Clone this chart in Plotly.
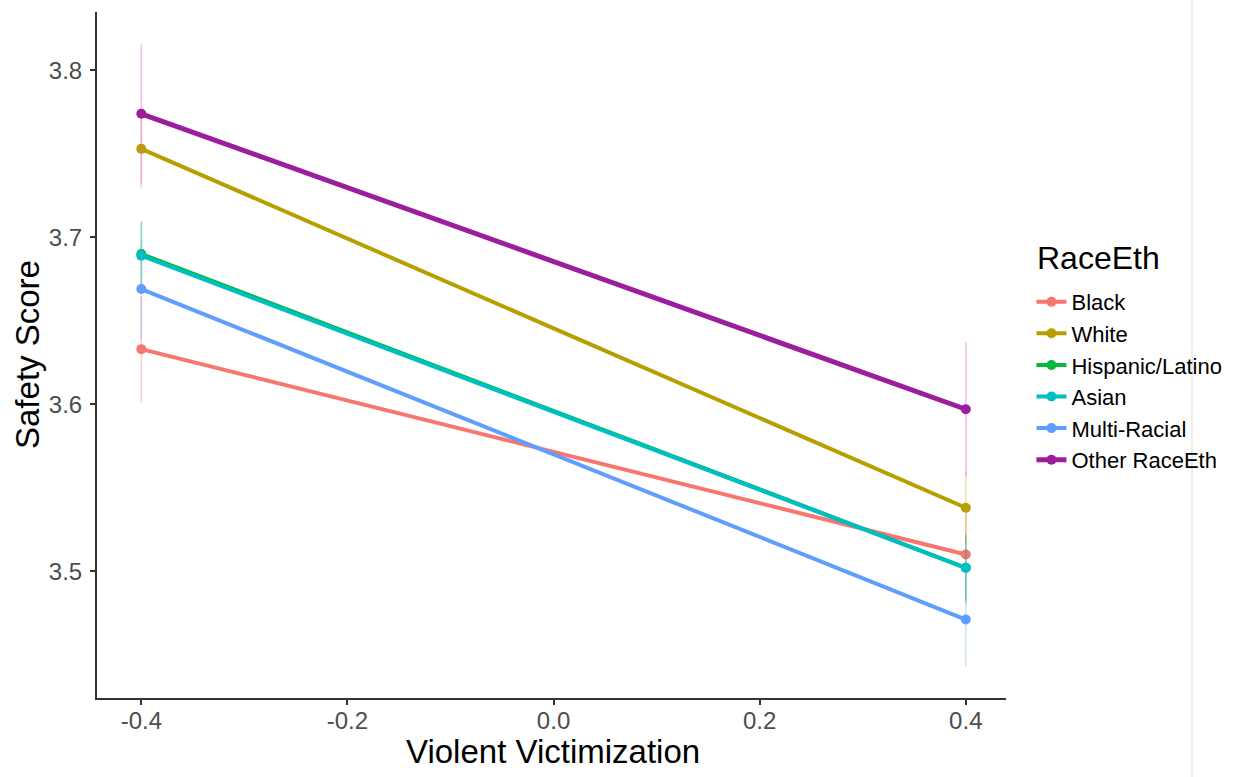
import plotly.graph_objects as go

x_vals = [-0.4, 0.4]
groups = ["Black", "White", "Hispanic/Latino", "Asian", "Multi-Racial", "Other RaceEth"]
y_black = [3.633, 3.510]
y_white = [3.753, 3.538]
y_hisp = [3.690, 3.502]
y_asian = [3.689, 3.502]
y_multi = [3.669, 3.471]
y_other = [3.774, 3.597]
err_black = [0.032, 0.030]
err_white = [0.024, 0.022]
err_hisp = [0.020, 0.020]
err_asian = [0.020, 0.020]
err_multi = [0.030, 0.028]
err_other = [0.042, 0.040]

series = [y_black, y_white, y_hisp, y_asian, y_multi, y_other]
errs = [err_black, err_white, err_hisp, err_asian, err_multi, err_other]
line_colors = ["#F8766D", "#B79F00", "#00BA38", "#00BFC4", "#619CFF", "#9A1E9E"]
line_widths = [4, 4, 4, 4, 4, 5]
err_colors = ["rgba(248,118,109,0.35)", "rgba(183,159,0,0.3)", "rgba(0,186,56,0.3)",
              "rgba(0,191,196,0.3)", "rgba(97,156,255,0.3)", "rgba(245,100,227,0.45)"]

fig = go.Figure()
for name, ys, es, lc, lw, ec in zip(groups, series, errs, line_colors, line_widths, err_colors):
    fig.add_trace(go.Scatter(
        x=x_vals, y=ys, name=name, mode="lines+markers",
        line=dict(color=lc, width=lw),
        marker=dict(color=lc, size=10),
        error_y=dict(type="data", array=es, visible=True, color=ec, thickness=1.5, width=0),
    ))

fig.update_layout(
    width=1255, height=777,
    margin=dict(l=97, r=249, t=12, b=79),
    plot_bgcolor="white", paper_bgcolor="white",
    font=dict(family="Liberation Sans, Arial, sans-serif"),
    showlegend=True,
    legend=dict(
        font=dict(size=22, color="black"),
        x=1.028, y=0.608, xanchor="left", yanchor="top",
        bgcolor="rgba(0,0,0,0)",
    ),
    annotations=[
        dict(text="RaceEth", xref="paper", yref="paper", x=1.0319, y=0.641,
             xanchor="left", yanchor="middle", showarrow=False,
             font=dict(size=32, color="black")),
        dict(text="Violent Victimization", xref="paper", yref="paper", x=0.502, y=-0.0787,
             xanchor="center", yanchor="middle", showarrow=False,
             font=dict(size=33, color="black")),
        dict(text="Safety Score", xref="paper", yref="paper", x=-0.077, y=0.5,
             xanchor="center", yanchor="middle", showarrow=False, textangle=-90,
             font=dict(size=33, color="black")),
    ],
    xaxis=dict(
        range=[-0.443, 0.439],
        tickvals=[-0.4, -0.2, 0.0, 0.2, 0.4],
        ticktext=["-0.4", "-0.2", "0.0", "0.2", "0.4"],
        showgrid=False, zeroline=False,
        showline=True, linecolor="#333333", linewidth=2,
        ticks="outside", ticklen=5, tickcolor="#333333", tickwidth=1.5,
        tickfont=dict(size=24, color="#4d4d4d"),
        ticklabelstandoff=-5,
    ),
    yaxis=dict(
        range=[3.424, 3.835],
        tickvals=[3.5, 3.6, 3.7, 3.8],
        ticktext=["3.5", "3.6", "3.7", "3.8"],
        showgrid=False, zeroline=False,
        showline=True, linecolor="#333333", linewidth=2,
        ticks="outside", ticklen=5, tickcolor="#333333", tickwidth=1.5,
        tickfont=dict(size=24, color="#4d4d4d"),
        ticklabelstandoff=3,
    ),
    shapes=[dict(type="line", xref="paper", yref="paper", x0=1.2046, x1=1.2046,
                 y0=-0.115, y1=1.0175, line=dict(color="#d9d9d9", width=1))],
)

fig.write_html("out.html")
